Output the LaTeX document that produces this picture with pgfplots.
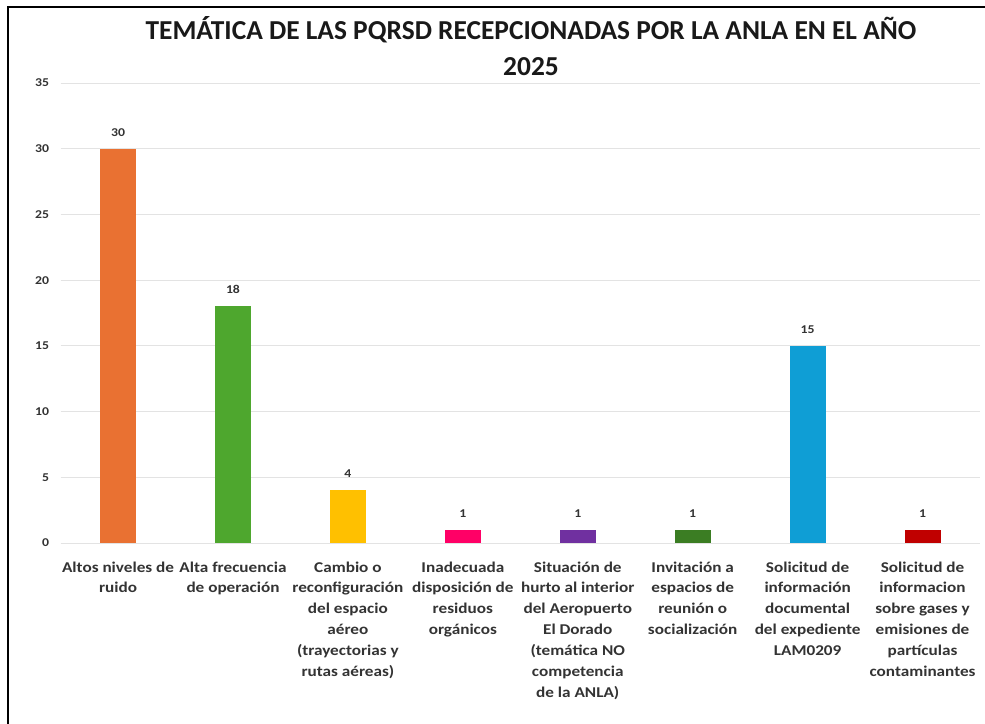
\documentclass[border=0pt]{standalone}
\usepackage{pgfplots}
\pgfplotsset{compat=1.18}
\usepackage{fontspec}
\setmainfont{Carlito}
\newfontfamily\labelfont[FakeStretch=1.15]{Carlito}
\definecolor{cOrange}{HTML}{E97132}
\definecolor{cGreen}{HTML}{4EA72E}
\definecolor{cYellow}{HTML}{FFC000}
\definecolor{cPink}{HTML}{FF0066}
\definecolor{cPurple}{HTML}{7030A0}
\definecolor{cDGreen}{HTML}{3B7D23}
\definecolor{cBlue}{HTML}{0F9ED5}
\definecolor{cRed}{HTML}{C00000}
\definecolor{txt}{HTML}{333333}
\begin{document}
\begin{tikzpicture}
\useasboundingbox (0,0) rectangle (985bp,724bp);
\fill[white] (0,0) rectangle (985bp,724bp);
\draw[black, line width=2.5bp] (8bp,0) -- (8bp,717bp) -- (985bp,717bp);
\node[font=\fontsize{27.5}{30}\selectfont\bfseries, text=black!90] at (531bp,{(724-30)*1bp}) {TEMÁTICA DE LAS PQRSD RECEPCIONADAS POR LA ANLA EN EL AÑO};
\node[font=\fontsize{27.5}{30}\selectfont\bfseries, text=black!90] at (531bp,{(724-67)*1bp}) {2025};
\begin{axis}[
  at={(60.6bp,181bp)}, anchor=south west,
  width=919.4bp, height=460bp, scale only axis,
  xmin=-0.5, xmax=7.5, ymin=0, ymax=35,
  ytick={0,5,...,35},
  xtick={0,...,7},
  xticklabels={{Altos niveles de\\ruido},{Alta frecuencia\\de operación},{Cambio o\\reconfiguración\\del espacio\\aéreo\\(trayectorias y\\rutas aéreas)},{Inadecuada\\disposición de\\residuos\\orgánicos},{Situación de\\hurto al interior\\del Aeropuerto\\El Dorado\\(temática NO\\competencia\\de la ANLA)},{Invitación a\\espacios de\\reunión o\\socialización},{Solicitud de\\información\\documental\\del expediente\\LAM0209},{Solicitud de\\informacion\\sobre gases y\\emisiones de\\partículas\\contaminantes}},
  xticklabel style={align=center, font=\labelfont\fontsize{15}{21}\selectfont\bfseries, text=txt, yshift=-15bp},
  yticklabel style={font=\labelfont\fontsize{12}{13}\selectfont\bfseries, text=txt, xshift=-8bp},
  /pgf/number format/assume math mode=true,
  major tick length=0pt,
  axis line style={draw=none},
  ymajorgrids, grid style={gray!22, line width=0.8pt},
  ybar, bar width=36bp, bar shift=0pt,
  nodes near coords,
  every node near coord/.append style={font=\labelfont\fontsize{12}{13}\selectfont\bfseries, text=txt, yshift=9bp},
  clip=false,
]
\addplot[fill=cOrange, draw=none] coordinates {(0,30)};
\addplot[fill=cGreen, draw=none] coordinates {(1,18)};
\addplot[fill=cYellow, draw=none] coordinates {(2,4)};
\addplot[fill=cPink, draw=none] coordinates {(3,1)};
\addplot[fill=cPurple, draw=none] coordinates {(4,1)};
\addplot[fill=cDGreen, draw=none] coordinates {(5,1)};
\addplot[fill=cBlue, draw=none] coordinates {(6,15)};
\addplot[fill=cRed, draw=none] coordinates {(7,1)};
\end{axis}
\end{tikzpicture}
\end{document}
